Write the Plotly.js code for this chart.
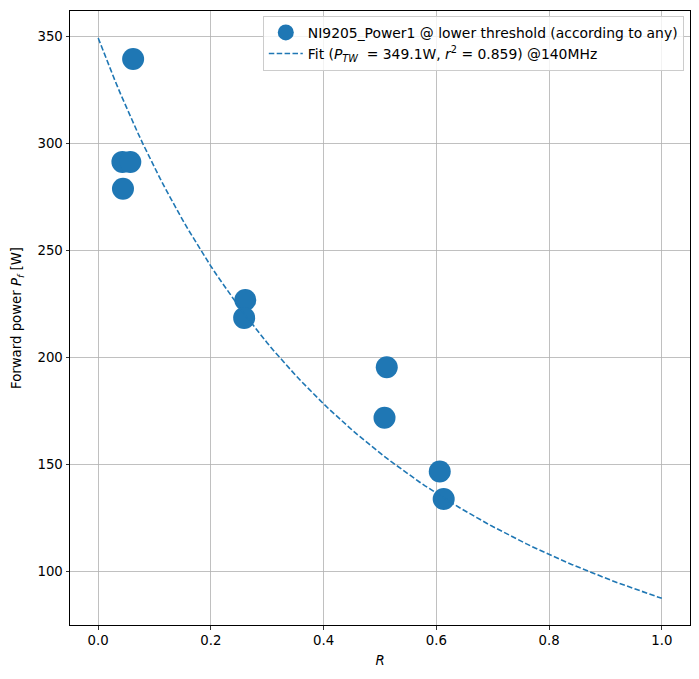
<!DOCTYPE html>
<html>
<head>
<meta charset="utf-8">
<script src="https://cdn.plot.ly/plotly-3.0.1.min.js"></script>
<style>
  html, body { margin: 0; padding: 0; background: #ffffff; }
  #chart { width: 699px; height: 679px; }
</style>
</head>
<body>
<div id="chart"></div>
<script>
// Measured threshold points: reflection coefficient R vs forward power (W)
const reflection = [0.062, 0.043, 0.057, 0.044, 0.261, 0.259, 0.512, 0.508, 0.606, 0.613];
const forwardPower = [339.3, 291.2, 291.1, 278.6, 226.7, 218.3, 195.2, 171.6, 146.5, 133.7];

// Fit parameters
const travellingWavePower = 349.1;   // P_TW in W
const rSquared = 0.859;
const fitRange = [0, 1];
const fitSteps = 100;

const xTicks = [0.0, 0.2, 0.4, 0.6, 0.8, 1.0];
const yTicks = [100, 150, 200, 250, 300, 350];

// Fit model: P_f = P_TW / (1 + R)^2
const fitR = [];
const fitP = [];
for (let i = 0; i <= fitSteps; i++) {
  const r = fitRange[0] + (fitRange[1] - fitRange[0]) * i / fitSteps;
  fitR.push(r);
  fitP.push(travellingWavePower / Math.pow(1 + r, 2));
}

const blue = '#1f77b4';
const font = { family: 'DejaVu Sans, sans-serif', size: 13.3, color: '#000000' };
const legendFont = { family: 'DejaVu Sans, sans-serif', size: 13.9, color: '#000000' };

const traces = [
  {
    x: reflection, y: forwardPower,
    type: 'scatter', mode: 'markers',
    name: 'NI9205_Power1 @ lower threshold (according to any)',
    marker: { color: blue, size: 22 }
  },
  {
    x: fitR, y: fitP,
    type: 'scatter', mode: 'lines',
    name: 'Fit (<i>P<sub>TW</sub></i>  = ' + travellingWavePower.toFixed(1) + 'W, <i>r</i><sup>2</sup> = ' + rSquared.toFixed(3) + ') @140MHz',
    line: { color: blue, width: 1.6, dash: '5.5px,2.4px' }
  }
];

const axisCommon = {
  showline: true, mirror: true, linecolor: '#000000', linewidth: 1,
  showgrid: true, gridcolor: '#b0b0b0', gridwidth: 0.8,
  zeroline: false,
  ticks: 'outside', ticklen: 3.5, tickwidth: 0.8, tickcolor: '#000000',
  tickfont: font
};

const layout = {
  width: 699, height: 679,
  margin: { l: 70, r: 9, t: 11, b: 54 },
  paper_bgcolor: '#ffffff', plot_bgcolor: '#ffffff',
  font: font,
  showlegend: true,
  legend: {
    x: 0.99, y: 0.992, xanchor: 'right', yanchor: 'top',
    bgcolor: 'rgba(255,255,255,0.8)', bordercolor: '#cccccc', borderwidth: 1,
    font: legendFont, tracegroupgap: 2, itemwidth: 34
  },
  xaxis: Object.assign({}, axisCommon, {
    range: [-0.05, 1.05],
    tickvals: xTicks, ticktext: xTicks.map(v => v.toFixed(1)),
    title: { text: '<i>R</i>', font: font, standoff: 8 }
  }),
  yaxis: Object.assign({}, axisCommon, {
    range: [74.8, 361.7],
    tickvals: yTicks, ticktext: yTicks.map(String),
    title: { text: 'Forward power <i>P<sub>f</sub></i> [W]', font: font, standoff: 12 }
  })
};

Plotly.newPlot('chart', traces, layout, { displayModeBar: false, staticPlot: true });
</script>
</body>
</html>
